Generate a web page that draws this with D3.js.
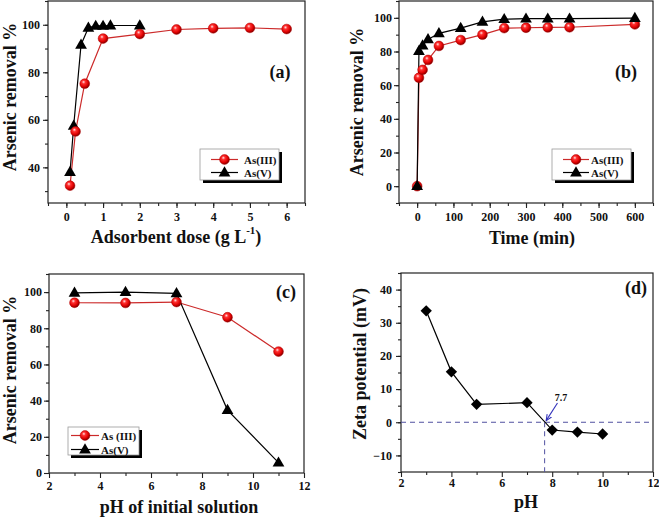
<!DOCTYPE html>
<html><head><meta charset="utf-8">
<script src="https://cdn.jsdelivr.net/npm/d3@7"></script>
<style>
body{margin:0;background:#fff;}
svg text{font-family:"Liberation Serif","Times New Roman",serif;font-weight:bold;fill:#111;}
</style></head>
<body>
<svg id="chart" width="659" height="517"></svg>
<script>
// ---- data ----
const doseIII = [0.1, 0.25, 0.5, 1, 2, 3, 4, 5, 6];
const removalDoseIII = [32.3, 55.1, 75.2, 94.2, 96.1, 98.0, 98.5, 98.7, 98.2];
const doseV = [0.1, 0.2, 0.4, 0.6, 0.8, 1, 1.2, 2];
const removalDoseV = [38.0, 57.5, 91.6, 98.7, 99.5, 99.5, 99.7, 99.7];

const timeMin = [0, 5, 15, 30, 60, 120, 180, 240, 300, 360, 420, 600];
const removalTimeIII = [0, 64.4, 69.1, 75.0, 83.3, 86.8, 90.0, 93.9, 94.1, 94.3, 94.4, 96.1];
const removalTimeV = [0, 80.3, 83.5, 87.2, 90.8, 93.9, 97.6, 99.2, 99.5, 99.5, 99.5, 99.8];

const phInitial = [3, 5, 7, 9, 11];
const removalPhIII = [94.1, 94.0, 94.5, 86.1, 67.1];
const removalPhV = [99.6, 100.0, 99.3, 34.8, 5.7];

const zetaPh = [3, 4, 5, 7, 8, 9, 10];
const zetaPotential = [33.6, 15.2, 5.4, 5.9, -2.35, -2.95, -3.55];
const pzc = 7.7;

const seriesNames = ["As(III)", "As(V)"];

// ---- drawing ----
const svg = d3.select("#chart");
const defs = svg.append("defs");
const grad = defs.append("radialGradient").attr("id", "sphere")
  .attr("cx", "40%").attr("cy", "38%").attr("r", "60%").attr("fx", "38%").attr("fy", "32%");
grad.append("stop").attr("offset", "0%").attr("stop-color", "#ffe6e6");
grad.append("stop").attr("offset", "30%").attr("stop-color", "#ff3030");
grad.append("stop").attr("offset", "75%").attr("stop-color", "#dd0000");
grad.append("stop").attr("offset", "100%").attr("stop-color", "#880000");

defs.append("marker").attr("id", "arrow").attr("viewBox", "0 0 10 10")
  .attr("refX", 9).attr("refY", 5).attr("markerWidth", 6).attr("markerHeight", 6)
  .attr("orient", "auto")
  .append("path").attr("d", "M0,1 L9,5 L0,9").attr("fill", "none")
  .attr("stroke", "#3333bb").attr("stroke-width", 1.6);

const RED = "#cc2a2a";
const triangle = d3.symbol().type(d3.symbolTriangle).size(60);
const diamond = d3.symbol().type(d3.symbolSquare).size(64);

function range(a, b, s) { const r = []; for (let v = a; v <= b + 1e-9; v += s) r.push(+v.toFixed(6)); return r; }

function panel(c) {
  const g = svg.append("g");
  const x = d3.scaleLinear().domain(c.xDomain).range([c.left, c.right]);
  const y = d3.scaleLinear().domain(c.yDomain).range([c.bottom, c.top]);

  // minor ticks
  g.append("g").attr("transform", `translate(0,${c.bottom})`)
    .call(d3.axisBottom(x).tickValues(c.xMinor).tickSize(3).tickFormat(""))
    .call(s => s.select(".domain").remove());
  g.append("g").attr("transform", `translate(${c.left},0)`)
    .call(d3.axisLeft(y).tickValues(c.yMinor).tickSize(3).tickFormat(""))
    .call(s => s.select(".domain").remove());
  // major ticks
  const xa = g.append("g").attr("transform", `translate(0,${c.bottom})`)
    .call(d3.axisBottom(x).tickValues(c.xMajor).tickSize(5).tickPadding(c.xPad).tickFormat(d3.format("d")));
  xa.select(".domain").remove();
  const ya = g.append("g").attr("transform", `translate(${c.left},0)`)
    .call(d3.axisLeft(y).tickValues(c.yMajor).tickSize(5).tickPadding(c.yPad).tickFormat(d3.format("d")));
  ya.select(".domain").remove();
  g.selectAll(".tick line").attr("stroke", "#222").attr("stroke-width", 1.1);
  g.selectAll(".tick text").style("font-family", '"Liberation Serif",serif')
    .style("font-weight", "bold").style("font-size", "12px").attr("fill", "#111");

  // frame
  g.append("rect").attr("x", c.left).attr("y", c.top)
    .attr("width", c.right - c.left).attr("height", c.bottom - c.top)
    .attr("fill", "none").attr("stroke", "#222").attr("stroke-width", 1.2);

  // titles
  const xt = g.append("text").attr("x", c.xTitlePos[0]).attr("y", c.xTitlePos[1])
    .attr("text-anchor", "middle").attr("dominant-baseline", "central")
    .style("font-size", "18px");
  c.xTitle(xt);
  g.append("text").attr("transform", `translate(${c.yTitlePos[0]},${c.yTitlePos[1]}) rotate(-90)`)
    .attr("text-anchor", "middle").attr("dominant-baseline", "central")
    .style("font-size", "18px").text(c.yTitle);
  g.append("text").attr("x", c.labelPos[0]).attr("y", c.labelPos[1])
    .attr("text-anchor", "middle").attr("dominant-baseline", "central")
    .style("font-size", "18px").text(c.label);
  return { g, x, y };
}

function lineSeries(p, xs, ys, color) {
  const pts = xs.map((v, i) => [v, ys[i]]);
  p.g.append("path").datum(pts)
    .attr("d", d3.line().x(d => p.x(d[0])).y(d => p.y(d[1])))
    .attr("fill", "none").attr("stroke", color).attr("stroke-width", 1.2);
  return pts;
}
function spheres(p, pts, r) {
  p.g.selectAll(null).data(pts).enter().append("circle")
    .attr("cx", d => p.x(d[0])).attr("cy", d => p.y(d[1])).attr("r", r || 4.9)
    .attr("fill", "url(#sphere)").attr("stroke", "#b00000").attr("stroke-width", 0.5);
}
function triangles(p, pts) {
  p.g.selectAll(null).data(pts).enter().append("path")
    .attr("d", triangle).attr("fill", "#000")
    .attr("transform", d => `translate(${p.x(d[0])},${p.y(d[1]) + 0.5})`);
}

function legend(box, names) {
  const g = svg.append("g");
  g.append("rect").attr("x", box.x + 3).attr("y", box.y + 3).attr("width", box.w).attr("height", box.h).attr("fill", "#000");
  g.append("rect").attr("x", box.x).attr("y", box.y).attr("width", box.w).attr("height", box.h)
    .attr("fill", "#fff").attr("stroke", "#999").attr("stroke-width", 0.8);
  const rows = [box.y + box.r1, box.y + box.r2];
  g.append("line").attr("x1", box.l1).attr("x2", box.l2).attr("y1", rows[0]).attr("y2", rows[0])
    .attr("stroke", RED).attr("stroke-width", 1.2);
  g.append("circle").attr("cx", (box.l1 + box.l2) / 2).attr("cy", rows[0]).attr("r", 4.9)
    .attr("fill", "url(#sphere)").attr("stroke", "#b00000").attr("stroke-width", 0.5);
  g.append("line").attr("x1", box.l1).attr("x2", box.l2).attr("y1", rows[1]).attr("y2", rows[1])
    .attr("stroke", "#000").attr("stroke-width", 1.2);
  g.append("path").attr("d", triangle).attr("fill", "#000")
    .attr("transform", `translate(${(box.l1 + box.l2) / 2},${rows[1] + 0.5})`);
  names.forEach((n, i) => {
    g.append("text").attr("x", box.tx).attr("y", rows[i]).attr("dominant-baseline", "central")
      .style("font-size", "11px").text(n);
  });
}

// (a)
const pa = panel({
  left: 48, right: 305, top: 1, bottom: 203,
  xDomain: [-0.5, 6.5], yDomain: [25, 110],
  xMajor: range(0, 6, 1), xMinor: range(-0.5, 6.5, 0.5),
  yMajor: range(40, 100, 20), yMinor: range(30, 110, 10),
  xPad: 4, yPad: 3,
  xTitlePos: [176, 237], yTitlePos: [10, 97], labelPos: [280, 72], label: "(a)",
  yTitle: "Arsenic removal %",
  xTitle: t => { t.append("tspan").text("Adsorbent dose (g L");
    t.append("tspan").attr("dy", -7).style("font-size", "11px").text("-1");
    t.append("tspan").attr("dy", 7).text(")"); }
});
lineSeries(pa, doseIII, removalDoseIII, RED);
const paV = lineSeries(pa, doseV, removalDoseV, "#000");
triangles(pa, paV);
spheres(pa, doseIII.map((v, i) => [v, removalDoseIII[i]]));
legend({ x: 200, y: 149, w: 79, h: 31, r1: 10.5, r2: 23.5, l1: 211, l2: 238, tx: 244 }, seriesNames);

// (b)
const pb = panel({
  left: 399, right: 653, top: 1, bottom: 203,
  xDomain: [-50, 650], yDomain: [-10, 110],
  xMajor: range(0, 600, 100), xMinor: range(-50, 650, 50),
  yMajor: range(0, 100, 20), yMinor: range(-10, 110, 10),
  xPad: 4, yPad: 2,
  xTitlePos: [532, 238], yTitlePos: [357, 102], labelPos: [626, 72], label: "(b)",
  yTitle: "Arsenic removal %",
  xTitle: t => t.text("Time (min)")
});
const pbIII = lineSeries(pb, timeMin, removalTimeIII, RED);
const pbV = lineSeries(pb, timeMin, removalTimeV, "#000");
spheres(pb, pbIII);
triangles(pb, pbV);
legend({ x: 552, y: 149, w: 79, h: 31, r1: 10.5, r2: 23.5, l1: 563, l2: 589, tx: 591 }, seriesNames);

// (c)
const pc = panel({
  left: 49, right: 304, top: 274, bottom: 473,
  xDomain: [2, 12], yDomain: [0, 110],
  xMajor: range(2, 12, 2), xMinor: range(3, 11, 2),
  yMajor: range(0, 100, 20), yMinor: range(10, 110, 10),
  xPad: 3, yPad: 2,
  xTitlePos: [179, 507], yTitlePos: [10, 370], labelPos: [286, 292], label: "(c)",
  yTitle: "Arsenic removal %",
  xTitle: t => t.text("pH of initial solution")
});
const pcIII = lineSeries(pc, phInitial, removalPhIII, RED);
const pcV = lineSeries(pc, phInitial, removalPhV, "#000");
spheres(pc, pcIII);
triangles(pc, pcV);
legend({ x: 68, y: 427, w: 71, h: 28, r1: 8.5, r2: 22.5, l1: 71, l2: 99, tx: 101 }, ["As (III)", "As(V)"]);

// (d)
const pd = panel({
  left: 401, right: 653, top: 273, bottom: 472,
  xDomain: [2, 12], yDomain: [-15, 45],
  xMajor: range(2, 12, 2), xMinor: range(3, 11, 2),
  yMajor: range(-10, 40, 10), yMinor: range(-15, 45, 5),
  xPad: 1, yPad: 4,
  xTitlePos: [526, 502], yTitlePos: [360, 364], labelPos: [636, 288], label: "(d)",
  yTitle: "Zeta potential (mV)",
  xTitle: t => t.text("pH")
});
pd.g.append("line").attr("x1", pd.x(2)).attr("x2", pd.x(12)).attr("y1", pd.y(0)).attr("y2", pd.y(0))
  .attr("stroke", "#5050a0").attr("stroke-width", 1).attr("stroke-dasharray", "5,4");
pd.g.append("line").attr("x1", pd.x(pzc)).attr("x2", pd.x(pzc)).attr("y1", pd.y(0)).attr("y2", pd.y(-15))
  .attr("stroke", "#5050a0").attr("stroke-width", 1).attr("stroke-dasharray", "5,4");
const pdPts = lineSeries(pd, zetaPh, zetaPotential, "#000");
pd.g.selectAll(null).data(pdPts).enter().append("path")
  .attr("d", diamond).attr("fill", "#000")
  .attr("transform", d => `translate(${pd.x(d[0])},${pd.y(d[1])}) rotate(45)`);
pd.g.append("line").attr("x1", pd.x(8.21)).attr("y1", pd.y(5.8)).attr("x2", pd.x(7.76)).attr("y2", pd.y(0.5))
  .attr("stroke", "#3333bb").attr("stroke-width", 1.1).attr("marker-end", "url(#arrow)");
pd.g.append("text").attr("x", pd.x(8.35)).attr("y", pd.y(7.6)).attr("text-anchor", "middle")
  .attr("dominant-baseline", "central").style("font-size", "10px").text(String(pzc));
</script>
</body></html>
